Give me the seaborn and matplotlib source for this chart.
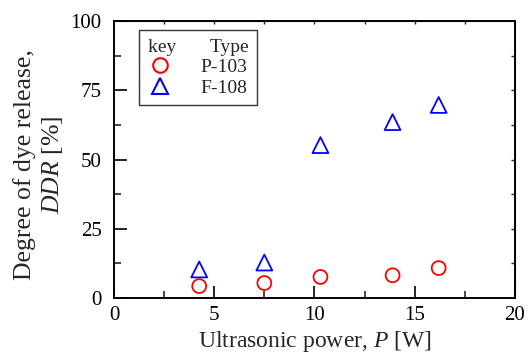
import matplotlib
matplotlib.use("Agg")
import matplotlib.pyplot as plt
from matplotlib.lines import Line2D
from matplotlib.ticker import MultipleLocator
import seaborn as sns
import pandas as pd

# Data
power_p103 = [4.25, 7.5, 10.3, 13.9, 16.2]
ddr_p103 = [4.3, 5.4, 7.6, 8.2, 10.8]
power_f108 = [4.25, 7.5, 10.3, 13.9, 16.2]
ddr_f108 = [10.3, 12.8, 55.2, 63.5, 69.7]
types = ["P-103", "F-108"]
x_ticks = [0, 5, 10, 15, 20]
y_ticks = [0, 25, 50, 75, 100]

sns.set_style("ticks")
plt.rcParams["font.family"] = ["Liberation Serif", "DejaVu Serif"]
plt.rcParams["mathtext.fontset"] = "custom"
plt.rcParams["mathtext.rm"] = "Liberation Serif"
plt.rcParams["mathtext.it"] = "Liberation Serif:italic"

df1 = pd.DataFrame({"P": power_p103, "DDR": ddr_p103})
df2 = pd.DataFrame({"P": power_f108, "DDR": ddr_f108})

fig = plt.figure(figsize=(5.28, 3.58), dpi=100)
ax = fig.add_axes([0.216, 0.1676, 0.759, 0.7737])

sns.scatterplot(data=df1, x="P", y="DDR", marker="o", s=100,
                facecolors="none", edgecolors="red", linewidths=1.3, ax=ax)
sns.scatterplot(data=df2, x="P", y="DDR", marker="^", s=130,
                facecolors="none", edgecolors="blue", linewidths=1.3, ax=ax)

ax.set_xlim(0, 20)
ax.set_ylim(0, 100)
ax.set_xticks(x_ticks)
ax.set_yticks(y_ticks)
ax.xaxis.set_minor_locator(MultipleLocator(2.5))
ax.yaxis.set_minor_locator(MultipleLocator(12.5))

for s in ax.spines.values():
    s.set_linewidth(1.4)
    s.set_color("black")

ax.tick_params(which="major", direction="in", length=9, width=1.2,
               labelsize=15, colors="black", top=False, right=False)
ax.tick_params(axis="y", which="major", pad=9)
ax.tick_params(axis="x", which="major", pad=6)
ax.tick_params(which="minor", direction="in", length=5, width=1.2,
               top=False, right=False)
# short ticks on top and right
ax2 = ax.secondary_xaxis("top")
ax2.set_xticks([2.5, 5, 7.5, 10, 12.5, 15, 17.5])
ax2.tick_params(direction="in", length=2, width=1, labeltop=False)
ax3 = ax.secondary_yaxis("right")
ax3.set_yticks([12.5, 25, 37.5, 50, 62.5, 75, 87.5])
ax3.tick_params(direction="in", length=3, width=1, labelright=False)

ax.set_xlabel("Ultrasonic power, $P$ [W]", fontsize=17)
ax.xaxis.set_label_coords(0.5, -0.113)
ax.set_ylabel("Degree of dye release,\n$DDR$ [%]", fontsize=18.5,
              linespacing=1.2)
ax.yaxis.set_label_coords(-0.123, 0.48)

handles = [
    Line2D([], [], marker="o", linestyle="none", markerfacecolor="none",
           markeredgecolor="red", markersize=10.5, markeredgewidth=1.5),
    Line2D([], [], marker="^", linestyle="none", markerfacecolor="none",
           markeredgecolor="blue", markersize=11, markeredgewidth=1.5),
]
leg = ax.legend(handles, types, title="key       Type",
                loc="upper left", bbox_to_anchor=(0.062, 0.968),
                frameon=True, fancybox=False, edgecolor="black",
                fontsize=14, title_fontsize=14, handletextpad=1.4,
                borderpad=0.45, labelspacing=0.15, handlelength=1.3,
                borderaxespad=0)
leg._legend_box.align = "left"
leg.get_frame().set_linewidth(1.0)

fig.savefig("out.png", dpi=100)
